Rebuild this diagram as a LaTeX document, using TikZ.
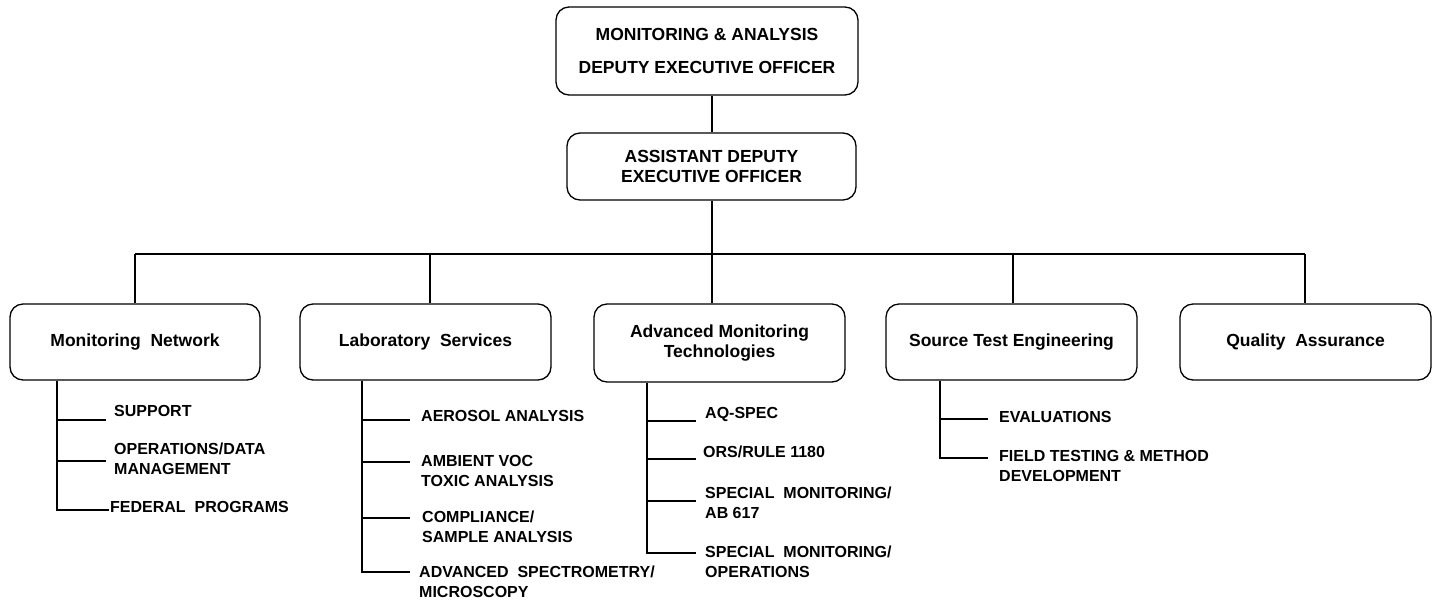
\documentclass[tikz,border=0pt]{standalone}
\usepackage{fontspec}
\setmainfont{Liberation Sans}
\begin{document}
\begin{tikzpicture}[x=1pt,y=-1pt,
  unit/.style={draw, rounded corners=13pt, line width=1.3pt, align=center, inner sep=0pt,
    font=\bfseries\fontsize{17.5}{20}\selectfont},
  item/.style={anchor=base west, inner sep=0pt, align=left,
    font=\bfseries\fontsize{16}{20}\selectfont},
  link/.style={line width=1.5pt}]
\useasboundingbox (0,0) rectangle (1437,603);

% management boxes
\node[unit, minimum width=302pt, minimum height=88pt] (deo) at (707,51)
  {MONITORING \& ANALYSIS\\[13pt]DEPUTY EXECUTIVE OFFICER};
\node[unit, minimum width=289pt, minimum height=67pt] (adeo) at (711.5,166.5)
  {ASSISTANT DEPUTY\\EXECUTIVE OFFICER};

% branch boxes
\node[unit, minimum width=250pt, minimum height=76pt] (mn)  at (135,342)    {Monitoring \ Network};
\node[unit, minimum width=251pt, minimum height=76pt] (ls)  at (425.5,342)  {Laboratory \ Services};
\node[unit, minimum width=251pt, minimum height=78pt] (amt) at (719.5,343)  {Advanced Monitoring\\Technologies};
\node[unit, minimum width=251pt, minimum height=76pt] (ste) at (1011.5,342) {Source Test Engineering};
\node[unit, minimum width=251pt, minimum height=76pt] (qa)  at (1305.5,342) {Quality \ Assurance};

% upper connectors and bus
\coordinate (bus) at (712,254);
\draw[link] (deo.south -| bus) -- (adeo.north -| bus);
\draw[link] (adeo.south -| bus) -- (bus);
\coordinate (busL) at (135,254);
\coordinate (busR) at (1305,254);
\draw[link] (busL) -- (busR);
\coordinate (dls) at (430,254);
\coordinate (dste) at (1013,254);
\draw[link] (busL) -- (mn.north -| busL);
\draw[link] (dls) -- (ls.north -| dls);
\draw[link] (bus) -- (amt.north -| bus);
\draw[link] (dste) -- (ste.north -| dste);
\draw[link] (busR) -- (qa.north -| busR);

% Monitoring Network sections (two-line labels are placed by their last baseline)
\node[item] (mnA) at (114,416) {SUPPORT};
\node[item] (mnB) at (114,474) {OPERATIONS/DATA\\MANAGEMENT};
\node[item] (mnC) at (110,512) {FEDERAL \ PROGRAMS};
\coordinate (mnS) at (57,0);
\coordinate (mn1) at (106,420);
\coordinate (mn2) at (106,461);
\coordinate (mn3) at (109,510);
\draw[link] (mn.south -| mnS) |- (mn3);
\draw[link] (mn1 -| mnS) -- (mn1);
\draw[link] (mn2 -| mnS) -- (mn2);

% Laboratory Services sections
\node[item] (lsA) at (421,421) {AEROSOL ANALYSIS};
\node[item] (lsB) at (421,486) {AMBIENT VOC\\TOXIC ANALYSIS};
\node[item] (lsC) at (422,542) {COMPLIANCE/\\SAMPLE ANALYSIS};
\node[item] (lsD) at (419,597) {ADVANCED \ SPECTROMETRY/\\MICROSCOPY};
\coordinate (lsS) at (362,0);
\coordinate (ls1) at (410,420);
\coordinate (ls2) at (410,462);
\coordinate (ls3) at (410,518);
\coordinate (ls4) at (410,572);
\draw[link] (ls.south -| lsS) |- (ls4);
\draw[link] (ls1 -| lsS) -- (ls1);
\draw[link] (ls2 -| lsS) -- (ls2);
\draw[link] (ls3 -| lsS) -- (ls3);

% Advanced Monitoring Technologies sections
\node[item] (amtA) at (705,418) {AQ-SPEC};
\node[item] (amtB) at (703,457) {ORS/RULE 1180};
\node[item] (amtC) at (705,518) {SPECIAL \ MONITORING/\\AB 617};
\node[item] (amtD) at (705,577) {SPECIAL \ MONITORING/\\OPERATIONS};
\coordinate (amtS) at (647,0);
\coordinate (amt1) at (696,421);
\coordinate (amt2) at (696,459);
\coordinate (amt3) at (696,501);
\coordinate (amt4) at (696,553);
\draw[link] (amt.south -| amtS) |- (amt4);
\draw[link] (amt1 -| amtS) -- (amt1);
\draw[link] (amt2 -| amtS) -- (amt2);
\draw[link] (amt3 -| amtS) -- (amt3);

% Source Test Engineering sections
\node[item] (steA) at (999,422) {EVALUATIONS};
\node[item] (steB) at (999,481) {FIELD TESTING \& METHOD\\DEVELOPMENT};
\coordinate (steS) at (940,0);
\coordinate (ste1) at (988,419);
\coordinate (ste2) at (988,458);
\draw[link] (ste.south -| steS) |- (ste2);
\draw[link] (ste1 -| steS) -- (ste1);
\end{tikzpicture}
\end{document}
